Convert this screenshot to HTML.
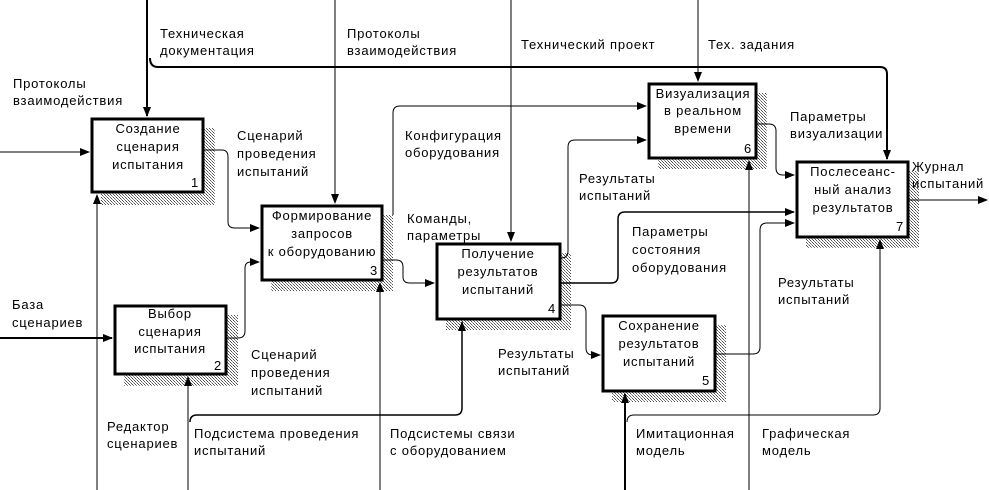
<!DOCTYPE html>
<html><head><meta charset="utf-8"><style>
html,body{margin:0;padding:0;background:#fff;}
svg{display:block;}
text{font-family:"Liberation Sans",sans-serif;font-size:13px;fill:#000;letter-spacing:0.8px;}
.c{text-anchor:middle;}
.r{text-anchor:end;}
</style></head><body>
<svg width="989" height="490" viewBox="0 0 989 490" xmlns="http://www.w3.org/2000/svg">
<defs>
<pattern id="h" width="3" height="3" patternUnits="userSpaceOnUse">
<rect width="3" height="3" fill="#fff"/><rect width="1" height="1" fill="#555"/><rect x="1" y="1" width="1" height="1" fill="#888"/><rect x="2" y="2" width="1" height="1" fill="#555"/>
</pattern>
<marker id="a" markerWidth="10" markerHeight="8" refX="9" refY="4" orient="auto" markerUnits="userSpaceOnUse"><path d="M0,0 L10,4 L0,8 z" fill="#000"/></marker>
</defs>
<g fill="url(#h)">
<rect x="204" y="128" width="11" height="77"/><rect x="101" y="193" width="114" height="12"/>
<rect x="383" y="215" width="10" height="76"/><rect x="271" y="281" width="122" height="10"/>
<rect x="227" y="315" width="11" height="71"/><rect x="124" y="375" width="114" height="11"/>
<rect x="561" y="253" width="10" height="77"/><rect x="446" y="320" width="125" height="10"/>
<rect x="757" y="93" width="10" height="76"/><rect x="658" y="159" width="109" height="10"/>
<rect x="909" y="171" width="10" height="77"/><rect x="806" y="238" width="113" height="10"/>
<rect x="716" y="325" width="10" height="77"/><rect x="612" y="392" width="114" height="10"/>
</g>
<g fill="none" stroke="#000" stroke-width="1">
<path d="M147,0 V116" stroke-width="2" marker-end="url(#a)"/>
<path d="M150,58 Q150,67 158,67 H880 Q887,67 887,74 V159" stroke-width="2" marker-end="url(#a)"/>
<path d="M335,0 V203" marker-end="url(#a)"/>
<path d="M511,0 V241" marker-end="url(#a)"/>
<path d="M698,0 V81" marker-end="url(#a)"/>
<path d="M0,152 H89" marker-end="url(#a)"/>
<path d="M204,150 H222 Q228,150 228,157 V222 Q228,228 235,228 H259" marker-end="url(#a)"/>
<path d="M0,338 H112" stroke-width="2" marker-end="url(#a)"/>
<path d="M227,338 H238 Q245,338 245,331 V268 Q245,262 251,262 H259" marker-end="url(#a)"/>
<path d="M383,260 H396 Q403,260 403,267 V277 Q403,283 410,283 H434" marker-end="url(#a)"/>
<path d="M393,215 V113 Q393,106 400,106 H646" marker-end="url(#a)"/>
<path d="M561,258 Q568,258 568,251 V147 Q568,140 575,140 H646" marker-end="url(#a)"/>
<path d="M561,283 H611 Q618,283 618,276 V219 Q618,212 625,212 H794" stroke-width="1.5" marker-end="url(#a)"/>
<path d="M561,305 H579 Q586,305 586,312 V348 Q586,355 593,355 H600" marker-end="url(#a)"/>
<path d="M716,354 H753 Q760,354 760,347 V230 Q760,223 767,223 H794" marker-end="url(#a)"/>
<path d="M757,124 H769 Q776,124 776,131 V168 Q776,175 783,175 H794" marker-end="url(#a)"/>
<path d="M909,200 H987" marker-end="url(#a)"/>
<path d="M97,490 V195" marker-end="url(#a)"/>
<path d="M188,490 V377" marker-end="url(#a)"/>
<path d="M190,422 Q190,415 197,415 H455 Q462,415 462,408 V322" stroke-width="1.5" marker-end="url(#a)"/>
<path d="M380,490 V283" marker-end="url(#a)"/>
<path d="M625,490 V394" stroke-width="2" marker-end="url(#a)"/>
<path d="M627,422 Q627,415 634,415 H873 Q880,415 880,408 V240" marker-end="url(#a)"/>
<path d="M749,490 V161" marker-end="url(#a)"/>
</g>
<g fill="#fff" stroke="#000" stroke-width="3">
<rect x="92" y="119" width="111" height="73"/>
<rect x="262" y="206" width="120" height="74"/>
<rect x="115" y="306" width="111" height="68"/>
<rect x="437" y="244" width="123" height="75"/>
<rect x="649" y="84" width="107" height="74"/>
<rect x="797" y="162" width="111" height="75"/>
<rect x="603" y="316" width="112" height="75"/>
</g>
<text class="c" x="148" y="133">Создание</text><text class="c" x="148" y="151">сценария</text><text class="c" x="148" y="169">испытания</text><text class="r" x="199" y="187">1</text>
<text class="c" x="322" y="220">Формирование</text><text class="c" x="322" y="238">запросов</text><text class="c" x="322" y="256">к оборудованию</text><text class="r" x="378" y="275">3</text>
<text class="c" x="170" y="318">Выбор</text><text class="c" x="170" y="336">сценария</text><text class="c" x="170" y="353">испытания</text><text class="r" x="222" y="370">2</text>
<text class="c" x="498" y="258">Получение</text><text class="c" x="498" y="276">результатов</text><text class="c" x="498" y="294">испытаний</text><text class="r" x="556" y="313">4</text>
<text class="c" x="703" y="98">Визуализация</text><text class="c" x="703" y="115">в реальном</text><text class="c" x="703" y="133">времени</text><text class="r" x="752" y="153">6</text>
<text class="c" x="853" y="176">Послесеанс-</text><text class="c" x="853" y="194">ный анализ</text><text class="c" x="853" y="212">результатов</text><text class="r" x="904" y="231">7</text>
<text class="c" x="659" y="330">Сохранение</text><text class="c" x="659" y="348">результатов</text><text class="c" x="659" y="366">испытаний</text><text class="r" x="710" y="385">5</text>
<text x="160" y="38">Техническая</text><text x="160" y="55">документация</text>
<text x="347" y="38">Протоколы</text><text x="347" y="55">взаимодействия</text>
<text x="13" y="88">Протоколы</text><text x="13" y="105">взаимодействия</text>
<text x="521" y="49">Технический проект</text>
<text x="708" y="49">Тех. задания</text>
<text x="237" y="140">Сценарий</text><text x="237" y="158">проведения</text><text x="237" y="176">испытаний</text>
<text x="405" y="140">Конфигурация</text><text x="405" y="157">оборудования</text>
<text x="407" y="223">Команды,</text><text x="407" y="240">параметры</text>
<text x="790" y="121">Параметры</text><text x="790" y="138">визуализации</text>
<text x="579" y="183">Результаты</text><text x="579" y="200">испытаний</text>
<text x="912" y="171">Журнал</text><text x="912" y="188">испытаний</text>
<text x="632" y="236">Параметры</text><text x="632" y="254">состояния</text><text x="632" y="272">оборудования</text>
<text x="778" y="287">Результаты</text><text x="778" y="304">испытаний</text>
<text x="12" y="309">База</text><text x="12" y="327">сценариев</text>
<text x="251" y="359">Сценарий</text><text x="251" y="377">проведения</text><text x="251" y="395">испытаний</text>
<text x="498" y="358">Результаты</text><text x="498" y="375">испытаний</text>
<text x="107" y="431">Редактор</text><text x="107" y="448">сценариев</text>
<text x="194" y="438">Подсистема проведения</text><text x="194" y="455">испытаний</text>
<text x="390" y="438">Подсистемы связи</text><text x="390" y="455">с оборудованием</text>
<text x="636" y="438">Имитационная</text><text x="636" y="455">модель</text>
<text x="762" y="438">Графическая</text><text x="762" y="455">модель</text>
</svg>
</body></html>
